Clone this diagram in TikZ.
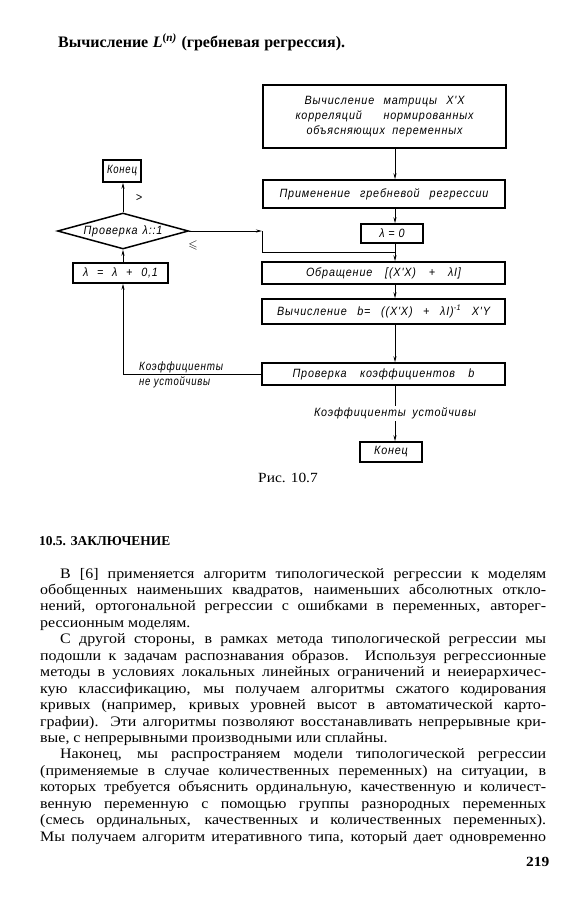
\documentclass[tikz,border=0pt]{standalone}
\usepackage{fontspec}
\usepackage{amssymb}
\usepackage{graphicx}
\usetikzlibrary{shapes.geometric,arrows.meta}
\setmainfont{Liberation Serif}
\newfontfamily\bodyfont[FakeStretch=1.1]{Liberation Serif}
\newfontfamily\dr[FakeStretch=0.9,LetterSpace=7]{Liberation Sans}
\newlength\jw
\newcommand{\jline}[2]{\settowidth{\jw}{#2}\ifdim\jw>#1\relax\resizebox{#1}{\height}{#2}\else\makebox[#1][s]{#2}\fi}
\newcommand{\fl}[1]{\jline{506pt}{#1}}
\newcommand{\il}[1]{\jline{486pt}{#1}}
\tikzset{
  fbox/.style={draw, line width=1.5pt, inner sep=0pt, font={\fontsize{12}{15}\selectfont\dr\itshape}},
  lbl/.style={inner sep=0pt, font={\fontsize{12}{14}\selectfont\dr\itshape}},
  conn/.style={line width=0.8pt},
  arr/.style={conn, -{Stealth[length=6pt,width=3pt]}},
  body/.style={anchor=base west, inner sep=0pt, font={\fontsize{14.5}{16}\selectfont\bodyfont}}
}
\begin{document}
\begin{tikzpicture}[x=1pt,y=-1pt]
\useasboundingbox (0,0) rectangle (585,900);
\fill[white] (0,0) rectangle (585,900);
% title
\node[anchor=west, inner sep=0pt, font={\fontsize{16}{18}\selectfont\bfseries}] (title) at (58,42)
  {\jline{287pt}{Вычисление {\itshape L}\textsuperscript{(\itshape n)} (гребневая регрессия).}};
% flowchart
\node[fbox, minimum width=243pt, minimum height=63pt, align=center] (top) at (384.5,116.5)
  {\jline{160pt}{Вычисление матрицы X'X}\\ \jline{178pt}{корреляций нормированных}\\ \jline{156pt}{объясняющих переменных}};
\node[fbox, minimum width=242pt, minimum height=28pt] (prim) at (384,194) {\jline{209pt}{Применение гребневой регрессии}};
\node[fbox, minimum width=62pt, minimum height=19pt] (lam0) at (392,233.5) {λ = 0};
\node[fbox, minimum width=243pt, minimum height=22pt] (obr) at (383.5,273) {\jline{155pt}{Обращение [(X'X) + λI]}};
\node[fbox, minimum width=243pt, minimum height=25pt] (vych) at (383.5,311.5) {\jline{213pt}{Вычисление b= ((X'X) + λI)\textsuperscript{-1} X'Y}};
\node[fbox, minimum width=243pt, minimum height=22pt] (prov) at (383.5,374) {\jline{182pt}{Проверка коэффициентов b}};
\node[fbox, minimum width=62pt, minimum height=20pt] (end2) at (391,452) {Конец};
\node[fbox, minimum width=38pt, minimum height=22pt] (end1) at (122,171) {\jline{30pt}{Конец}};
\node[fbox, diamond, shape aspect=3.6, minimum width=131pt, minimum height=36pt] (dia) at (123,231) {\jline{79pt}{Проверка λ::1}};
\node[fbox, minimum width=95pt, minimum height=20pt] (inc) at (120.5,273) {\jline{75pt}{λ = λ + 0,1}};
\coordinate (sp) at (395,0);
\coordinate (c1) at (262,231);
\coordinate (c2) at (395,252);
\draw[arr] (top.south -| sp) -- (prim.north -| sp);
\draw[arr] (prim.south -| sp) -- (lam0.north -| sp);
\draw[arr] (lam0.south -| sp) -- (obr.north -| sp);
\draw[arr] (obr.south -| sp) -- (vych.north -| sp);
\draw[arr] (vych.south -| sp) -- (prov.north -| sp);
\draw[arr] (prov.south -| sp) -- node[lbl, fill=white, inner sep=2pt] (kust) {\jline{162pt}{Коэффициенты устойчивы}} (end2.north -| sp);
\draw[arr] (dia.north) -- (end1.south -| dia.north);
\draw[arr] (inc.north -| dia.south) -- (dia.south);
\draw[arr] (prov.west) -| (inc.south -| dia.south);
\draw[arr] (dia.east) -- (c1);
\draw[conn] (c1) |- (c2);
\node[lbl] (gt) at (139,198) {>};
\node[lbl] (le) at (193,245) {$\leqslant$};
\node[lbl, anchor=west] (kn1) at (139,367) {\jline{84pt}{Коэффициенты}};
\node[lbl, anchor=west] (kn2) at (139,382) {\jline{71pt}{не устойчивы}};
\node[anchor=west, inner sep=0pt, font={\fontsize{14}{16}\selectfont\bodyfont}] (fig) at (258,478) {Рис. 10.7};
% section
\node[anchor=west, inner sep=0pt, font={\fontsize{13.5}{15}\selectfont\bfseries}] (sec) at (39,541) {\jline{131pt}{10.5. ЗАКЛЮЧЕНИЕ}};
% body
\node[body] (l1) at (60,578) {\il{В [6] применяется алгоритм типологической регрессии к моделям}};
\node[body] (l2) at (40,594.45) {\fl{обобщенных наименьших квадратов, наименьших абсолютных откло-}};
\node[body] (l3) at (40,610.9) {\fl{нений, ортогональной регрессии с ошибками в переменных, авторег-}};
\node[body] (l4) at (40,627.35) {рессионным моделям.};
\node[body] (l5) at (60,643.8) {\il{С другой стороны, в рамках метода типологической регрессии мы}};
\node[body] (l6) at (40,660.25) {\fl{подошли к задачам распознавания образов. Используя регрессионные}};
\node[body] (l7) at (40,676.7) {\fl{методы в условиях локальных линейных ограничений и неиерархичес-}};
\node[body] (l8) at (40,693.15) {\fl{кую классификацию, мы получаем алгоритмы сжатого кодирования}};
\node[body] (l9) at (40,709.6) {\fl{кривых (например, кривых уровней высот в автоматической карто-}};
\node[body] (l10) at (40,726.05) {\fl{графии). Эти алгоритмы позволяют восстанавливать непрерывные кри-}};
\node[body] (l11) at (40,742.5) {вые, с непрерывными производными или сплайны.};
\node[body] (l12) at (60,758.95) {\il{Наконец, мы распространяем модели типологической регрессии}};
\node[body] (l13) at (40,775.4) {\fl{(применяемые в случае количественных переменных) на ситуации, в}};
\node[body] (l14) at (40,791.85) {\fl{которых требуется объяснить ординальную, качественную и количест-}};
\node[body] (l15) at (40,808.3) {\fl{венную переменную с помощью группы разнородных переменных}};
\node[body] (l16) at (40,824.75) {\fl{(смесь ординальных, качественных и количественных переменных).}};
\node[body] (l17) at (40,841.2) {\fl{Мы получаем алгоритм итеративного типа, который дает одновременно}};
\node[anchor=west, inner sep=0pt, font={\fontsize{14}{16}\selectfont\bodyfont\bfseries}] (pg) at (526,862) {219};
\end{tikzpicture}
\end{document}
